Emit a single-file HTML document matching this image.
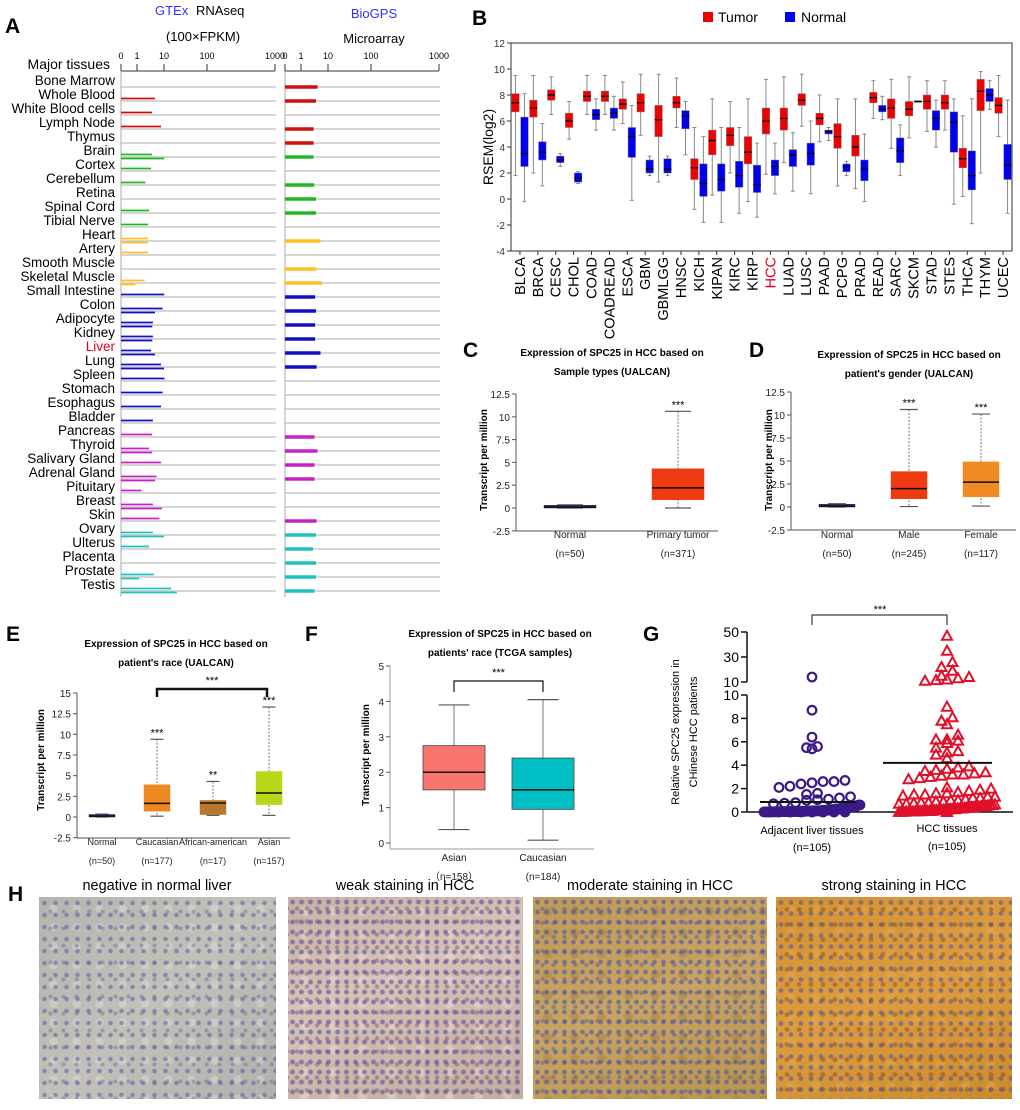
<!DOCTYPE html>
<html><head><meta charset="utf-8">
<style>
body{margin:0;background:#fff;width:1020px;height:1110px;overflow:hidden;position:relative;font-family:"Liberation Sans",sans-serif}
svg{position:absolute;left:0;top:0}
.ihc{position:absolute;top:897px;height:202px}
</style></head>
<body>
<div class="ihc" style="left:39px;width:237px;background:radial-gradient(circle,rgba(80,90,160,.55) 1.6px,transparent 2.8px) 0 0/11px 12px,radial-gradient(circle,rgba(90,90,150,.4) 1.4px,transparent 2.6px) 5px 6px/13px 17px,radial-gradient(circle,rgba(220,220,215,.5) 3px,transparent 5px) 3px 2px/23px 19px,linear-gradient(135deg,#b4b4ae,#c2c0b8 50%,#b0b0ac)"></div>
<div class="ihc" style="left:288px;width:235px;background:radial-gradient(circle,rgba(80,80,150,.6) 1.8px,transparent 3px) 0 0/9px 10px,radial-gradient(circle,rgba(120,70,110,.45) 1.6px,transparent 2.8px) 4px 5px/10px 13px,radial-gradient(circle,rgba(235,220,210,.5) 3px,transparent 6px) 2px 3px/29px 23px,linear-gradient(160deg,#c9b1a6,#d6c2b8 40%,#c4aca0)"></div>
<div class="ihc" style="left:533px;width:234px;background:radial-gradient(circle,rgba(70,80,170,.6) 1.7px,transparent 2.9px) 0 0/9px 10px,radial-gradient(circle,rgba(80,80,160,.45) 1.5px,transparent 2.7px) 4px 5px/11px 14px,radial-gradient(circle,rgba(150,120,60,.4) 3px,transparent 6px) 1px 4px/27px 21px,linear-gradient(160deg,#bf9a58,#c8a462 50%,#b8944e)"></div>
<div class="ihc" style="left:776px;width:236px;background:radial-gradient(circle,rgba(70,80,170,.55) 1.7px,transparent 2.9px) 0 0/10px 11px,radial-gradient(circle,rgba(120,60,20,.4) 1.8px,transparent 3px) 5px 5px/12px 15px,radial-gradient(circle,rgba(230,170,80,.45) 3px,transparent 6px) 2px 2px/25px 22px,linear-gradient(160deg,#d49232,#dc9c3e 50%,#cc8a2c)"></div>
<svg id="s" width="1020" height="1110" xmlns="http://www.w3.org/2000/svg"></svg>
<script>
// ---------- Panel A data ----------
const tissues=["Bone  Marrow","Whole Blood","White Blood cells","Lymph Node","Thymus","Brain","Cortex","Cerebellum","Retina","Spinal Cord","Tibial Nerve","Heart","Artery","Smooth  Muscle","Skeletal Muscle","Small Intestine","Colon","Adipocyte","Kidney","Liver","Lung","Spleen","Stomach","Esophagus","Bladder","Pancreas","Thyroid","Salivary Gland","Adrenal Gland","Pituitary","Breast","Skin","Ovary","Ulterus","Placenta","Prostate","Testis"];
const tissueGroup=[0,0,0,0,0,1,1,1,1,1,1,2,2,2,2,3,3,3,3,3,3,3,3,3,3,4,4,4,4,4,4,4,5,5,5,5,5];
const groupColors=["#cc1010","#20b820","#ffc020","#1010c0","#c820c8","#20c0c0"];
const gtexA=[0,7,6,9,0,6,5.7,3.8,0,5,4.7,4.7,4.7,0,3.5,10.5,9.5,6.3,6.3,5.7,9,11,9.5,9,6.3,6,5,9,7.5,2.5,6.3,8.5,6.3,5,0,6.6,25];
const gtexB=[0,0,0,0,0,10.5,0,0,0,0,0,4.7,0,0,0.9,0,7,6.1,6.1,7,10,0,0,0,0,0,6,0,7,0,9.3,0,10,0,0,1.7,37];
const bioVals=[6.5,6,0,5.2,5.2,5.2,0,5.4,6,6,0,7.5,0,6.2,8,5.7,6,5.7,5.7,7.5,6.2,0,0,0,0,5.5,6.5,5.5,5.5,0,0,6.2,6,5,6,6,5.5];
const axisTicksA=[0,1,10,100,1000];
// ---------- Panel B data ----------
const bCats=["BLCA","BRCA","CESC","CHOL","COAD","COADREAD","ESCA","GBM","GBMLGG","HNSC","KICH","KIPAN","KIRC","KIRP","HCC","LUAD","LUSC","PAAD","PCPG","PRAD","READ","SARC","SKCM","STAD","STES","THCA","THYM","UCEC"];
const tumorStats=[[6.7,7.4,8.1,1.8,9.5],[6.3,7.0,7.6,2,9.5],[7.6,8.0,8.4,6.5,9.4],[5.5,6.0,6.6,4.6,7.5],[7.5,7.9,8.3,6.5,9.5],[7.5,7.9,8.3,6.5,9.5],[6.9,7.3,7.7,5.8,9.0],[6.7,7.4,8.1,4.9,9.6],[4.8,6.1,7.2,1.3,9.6],[7,7.4,7.9,5.5,9.3],[1.5,2.4,3.1,-0.8,5.5],[3.4,4.5,5.3,0.3,7.7],[4.1,4.9,5.5,2,7.5],[2.7,3.6,4.8,-0.2,7.7],[5,6,7,1.9,9.2],[5.3,6.2,7,2.8,9.4],[7.2,7.6,8.1,5.6,9.6],[5.7,6.2,6.6,4.4,8],[3.9,4.8,5.8,1,7.7],[3.3,4,4.9,0.8,7.7],[7.4,7.8,8.2,6.2,9.1],[6.2,7,7.7,3.9,9.2],[6.4,6.9,7.5,4.7,9.4],[6.9,7.5,8,5.2,9.1],[6.9,7.4,8,5.3,9.1],[2.4,3.1,3.9,0.2,6.4],[6.8,8.3,9.2,2,9.8],[6.6,7.2,7.8,4.8,9.5]];
const normalStats=[[2.5,3.5,6.3,-0.2,8.1],[3,3.6,4.4,1,5.8],[2.8,3.0,3.3,2.5,3.5],[1.3,1.6,2.0,1.2,2.1],[6.1,6.5,6.9,5.3,7.7],[6.2,6.6,7.0,5.3,7.9],[3.2,4.8,5.5,-0.1,7.2],[2,2.3,3,1.8,3.3],[2,2.3,3.1,1.8,3.3],[5.4,6.4,6.8,3.4,7.5],[0.2,1.2,2.7,-1.8,4.8],[0.6,1.5,2.7,-1.8,5.5],[0.9,1.8,2.9,-1.1,5.5],[0.5,1.1,2.6,-1.4,4.3],[1.8,2.5,3,0.4,4.3],[2.5,3.4,3.8,0.6,5.1],[2.6,3.5,4.3,0.4,6],[5,5.2,5.3,4.5,5.5],[2.1,2.5,2.7,1.8,2.9],[1.4,2.3,3,-0.2,5],[6.7,6.9,7.2,6.1,7.9],[2.8,3.7,4.7,1.8,5.7],[7.45,7.5,7.55,7.45,7.55],[5.3,6.2,6.8,4,7.6],[3.6,5.9,6.7,-0.4,7.7],[0.7,1.8,3.7,-1.9,7.7],[7.5,8,8.5,6.9,9.1],[1.5,2.6,4.2,-1.1,7.6]];
const bTicks=[-4,-2,0,2,4,6,8,10,12];
// ---------- Panels C-F data ----------
const cCats=["Normal","Primary tumor"];const cN=["(n=50)","(n=371)"];
const cStats=[[0,0.1,0.3,0,0.35],[0.9,2.2,4.3,0,10.6]];
const dCats=["Normal","Male","Female"];const dN=["(n=50)","(n=245)","(n=117)"];
const dStats=[[0,0.1,0.3,0,0.35],[0.9,2,3.85,0.05,10.6],[1.1,2.7,4.9,0.1,10.1]];
const eCats=["Normal","Caucasian","African-american","Asian"];const eN=["(n=50)","(n=177)","(n=17)","(n=157)"];
const eStats=[[0,0.1,0.3,0,0.35],[0.7,1.65,3.9,0.1,9.4],[0.3,1.7,2.0,0.2,4.3],[1.5,2.9,5.5,0.2,13.3]];
const fCats=["Asian","Caucasian"];const fN=["（n=158）","(n=184)"];
const fStats=[[1.5,2.0,2.75,0.38,3.9],[0.95,1.5,2.4,0.08,4.05]];
const ualTicks=[-2.5,0,2.5,5,7.5,10,12.5];
const eTicks=[-2.5,0,2.5,5,7.5,10,12.5,15];
const fTicks=[0,1,2,3,4,5];
// ---------- Panel G data ----------
const adjVals=[14,8.7,6.4,5.4,5.5,5.6,2.7,2.6,2.4,2.1,2.2,2.5,2.6,1.6,1.3,1.1,1.0,1.05,1.2,1.5,0.8,0.7,0.75,0.6,0.6,0.55,0.5,0.5,0.45,0.45,0.4,0.4,0.4,0.35,0.35,0.3,0.3,0.3,0.3,0.25,0.25,0.25,0.25,0.2,0.2,0.2,0.2,0.2,0.15,0.15,0.15,0.15,0.15,0.1,0.1,0.1,0.1,0.1,0.1,0.1,0.08,0.08,0.08,0.08,0.08,0.06,0.06,0.06,0.06,0.06,0.05,0.05,0.05,0.05,0.05,0.04,0.04,0.04,0.04,0.04,0.03,0.03,0.03,0.03,0.03,0.02,0.02,0.02,0.02,0.02,0.02,0.01,0.01,0.01,0.01,0.01,0.01,0.01,0,0,0,0,0,0,0];
const hccVals=[47,35,26,22,19,15,14,13,12,11.5,11,9,8.1,7.8,7.5,6.6,6.2,6.1,6.2,5.9,5.5,5.2,5.1,4.9,4.6,3.9,3.8,3.7,3.6,3.4,3.3,3.2,3.1,3.0,2.9,2.8,3.5,3.2,2.1,2.0,1.9,1.8,1.7,1.6,1.5,1.4,1.3,1.2,1.1,1.0,1.6,1.5,1.3,1.2,1.0,0.9,0.9,0.8,0.8,0.75,0.7,0.7,0.65,0.6,0.6,0.55,0.5,0.5,0.5,0.45,0.45,0.4,0.4,0.4,0.35,0.35,0.3,0.3,0.3,0.25,0.25,0.25,0.2,0.2,0.2,0.2,0.15,0.15,0.15,0.1,0.1,0.1,0.1,0.08,0.08,0.06,0.06,0.05,0.05,0.04,0.03,0.02,0.02,0.01,0];
const adjMean=0.85, hccMean=4.2;
const gCats=["Adjacent liver tissues","HCC tissues"];
const gLowTicks=[0,2,4,6,8,10];const gHighTicks=[10,30,50];

// ---------- helpers ----------
const S=document.getElementById('s');const NS='http://www.w3.org/2000/svg';
function mk(tag,attrs,name,parent){const el=document.createElementNS(NS,tag);for(const k in attrs)el.setAttribute(k,attrs[k]);


(parent||S).appendChild(el);return el;}
function tx(x,y,str,name,o){o=o||{};const el=mk('text',Object.assign({x:x,y:y,'font-size':o.fs||12,'font-family':'Liberation Sans, sans-serif','text-anchor':o.a||'start',fill:o.fill||'#000','font-weight':o.fw||'normal'},o.tr?{transform:o.tr}:{}),name);el.textContent=str;return el;}
function ln(x1,y1,x2,y2,c,w,name,dash){const a={x1:x1,y1:y1,x2:x2,y2:y2,stroke:c,'stroke-width':w};if(dash)a['stroke-dasharray']=dash;return mk('line',a,name);}

// ---------- Panel A ----------
tx(5,33,"A","panel-label-a",{fs:21,fw:'bold'});
tx(155,15,"GTEx","gtex-title",{fs:13,fill:'#3030ff'});tx(196,15,"RNAseq","gtex-title-2",{fs:13});
tx(203,41,"(100×FPKM)","gtex-units",{fs:13,a:'middle'});
tx(374,18,"BioGPS","biogps-title",{fs:13,a:'middle',fill:'#3030ff'});
tx(374,43,"Microarray","biogps-subtitle",{fs:13,a:'middle'});
tx(110,69,"Major tissues","major-tissues-header",{fs:14,a:'end'});
const tickPx=[0,16,43,86,154];
function aScale(v){for(let i=1;i<axisTicksA.length;i++){if(v<=axisTicksA[i]){const t=(v-axisTicksA[i-1])/(axisTicksA[i]-axisTicksA[i-1]);return tickPx[i-1]+t*(tickPx[i]-tickPx[i-1]);}}return tickPx[4];}
[121,285].forEach((x0,k)=>{
 ln(x0,71,x0+154,71,'#333',1,k?'biogps-axis':'gtex-axis');
 ln(x0,71,x0,597,'#aaa',1,k?'biogps-left-line':'gtex-left-line');
 axisTicksA.forEach(t=>{const x=x0+aScale(t);ln(x,64,x,71,'#333',1,'a-tick');tx(x,59,String(t),'a-tick-label',{fs:9,a:'middle'});});
});
tissues.forEach((t,i)=>{const y=87+i*14;
 tx(115,y-2,t,'tissue-label',{fs:13.5,a:'end',fill:t==='Liver'?'#e00020':'#000'});
 ln(121,y,276,y,'#c8c8c8',1.5,'gtex-gridline');ln(285,y,440,y,'#c8c8c8',1.5,'biogps-gridline');
 const c=groupColors[tissueGroup[i]];
 if(gtexA[i]>0)ln(121,y-2.5,121+aScale(gtexA[i]),y-2.5,c,1.8,'gtex-bar');
 if(gtexB[i]>0)ln(121,y+1.5,121+aScale(gtexB[i]),y+1.5,c,1.8,'gtex-bar-2');
 if(bioVals[i]>0)ln(285,y,285+aScale(bioVals[i]),y,c,3.5,'biogps-bar');
});

// ---------- Panel B ----------
tx(472,25,"B","panel-label-b",{fs:21,fw:'bold'});
mk('rect',{x:703,y:12,width:10,height:10,fill:'#f00000'},'legend-tumor-swatch');tx(718,22,"Tumor","legend-tumor",{fs:14});
mk('rect',{x:785,y:12,width:10,height:10,fill:'#0000f0'},'legend-normal-swatch');tx(801,22,"Normal","legend-normal",{fs:14});
const bY=v=>251-(v+4)*13;
mk('rect',{x:511,y:43,width:501,height:208,fill:'none',stroke:'#333','stroke-width':1},'b-plot-frame');
bTicks.forEach(t=>{ln(507,bY(t),511,bY(t),'#333',1,'b-y-tick');tx(505,bY(t)+4,String(t),'b-y-tick-label',{fs:10,a:'end',fill:'#333'});});
tx(493,147,"RSEM(log2)","b-y-axis-title",{fs:14,a:'middle',tr:'rotate(-90 493 147)'});
const bw=(1012-511)/bCats.length;
function bbox(cx,st,col,name){const w=7.5;
 ln(cx,bY(st[4]),cx,bY(st[3]),'#888',1,name+'-whisker');
 ln(cx-2,bY(st[4]),cx+2,bY(st[4]),'#888',1,name+'-cap');ln(cx-2,bY(st[3]),cx+2,bY(st[3]),'#888',1,name+'-cap');
 mk('rect',{x:cx-w/2,y:bY(st[2]),width:w,height:Math.max(1,bY(st[0])-bY(st[2])),fill:col,stroke:'#777','stroke-width':0.5},name);
 ln(cx-w/2,bY(st[1]),cx+w/2,bY(st[1]),'#000',1.3,name+'-median');}
bCats.forEach((c,i)=>{const cx=511+(i+0.5)*bw;
 bbox(cx-4.5,tumorStats[i],'#f00000','b-tumor-box');bbox(cx+4.5,normalStats[i],'#0000f0','b-normal-box');
 ln(cx,251,cx,255,'#333',1,'b-x-tick');
 tx(cx+5,257,c,'b-x-label',{fs:14.5,a:'end',tr:`rotate(-90 ${cx+5} 257)`,fill:c==='HCC'?'#e00020':'#000'});
});

// ---------- UALCAN style panels ----------
function ualPanel(p){
 const yf=v=>p.y0-v*p.k;
 tx(p.lx,p.ly,p.label,'panel-label-'+p.id,{fs:21,fw:'bold'});
 tx(p.tcx,p.t1,p.title1,p.id+'-title-line1',{fs:10,a:'middle',fw:'bold'});
 tx(p.tcx,p.t1+19,p.title2,p.id+'-title-line2',{fs:10,a:'middle',fw:'bold'});
 ln(p.ax,yf(p.ticks[p.ticks.length-1]),p.ax,p.axB,p.axc||'#555',1,p.id+'-y-axis');
 ln(p.ax,p.axB,p.axR,p.axB,p.axc||'#555',1,p.id+'-x-axis');
 p.ticks.forEach(t=>{ln(p.ax-4,yf(t),p.ax,yf(t),'#555',1,p.id+'-y-tick');tx(p.ax-6,yf(t)+4,String(t),p.id+'-y-tick-label',{fs:p.tfs||10,a:'end',fill:'#222'});});
 tx(p.ylx,p.ylc,"Transcript per million",p.id+'-y-axis-title',{fs:10,a:'middle',fw:'bold',tr:`rotate(-90 ${p.ylx} ${p.ylc})`});
 p.cats.forEach((c,i)=>{const cx=p.cx[i],st=p.stats[i],w=p.bw;
  ln(cx,yf(st[4]),cx,yf(st[3]),'#777',1,p.id+'-whisker',p.solid?null:'2,1.5');
  ln(cx-w/4,yf(st[4]),cx+w/4,yf(st[4]),'#555',1.2,p.id+'-whisker-cap');ln(cx-w/4,yf(st[3]),cx+w/4,yf(st[3]),'#555',1.2,p.id+'-whisker-cap');
  mk('rect',{x:cx-w/2,y:yf(st[2]),width:w,height:Math.max(2,yf(st[0])-yf(st[2])),fill:p.colors[i],stroke:p.solid?'#444':p.colors[i],'stroke-width':p.solid?0.8:0.5},p.id+'-box-'+c.toLowerCase().replace(/\W+/g,'-'));
  ln(cx-w/2,yf(st[1]),cx+w/2,yf(st[1]),'#111',1.5,p.id+'-median');
  tx(cx,p.labY,c,p.id+'-x-label',{fs:p.lfs||10,a:'middle',fill:'#222'});
  tx(cx,p.labY+19,p.ns[i],p.id+'-n-label',{fs:p.lfs||10,a:'middle',fill:'#222'});
  if(p.stars&&p.stars[i])tx(cx,yf(st[4])-3,p.stars[i],p.id+'-significance',{fs:11,a:'middle'});
 });
 if(p.br){const[a,b,y,yb,st,w]=p.br;mk('path',{d:`M${a},${yb} V${y} H${b} V${yb}`,fill:'none',stroke:'#111','stroke-width':w},p.id+'-bracket');tx((a+b)/2,y-5,st,p.id+'-bracket-stars',{fs:11,a:'middle'});}
}
ualPanel({id:'c',label:'C',lx:463,ly:357,tcx:612,t1:356,title1:'Expression of SPC25 in HCC based on',title2:'Sample types (UALCAN)',ax:516,axB:531,axR:718,y0:508,k:114/12.5,ticks:ualTicks,ylx:487,ylc:460,cats:cCats,ns:cN,cx:[570,678],bw:52,stats:cStats,colors:['#27306a','#f03a12'],labY:538,stars:[null,'***']});
ualPanel({id:'d',label:'D',lx:749,ly:357,tcx:909,t1:358,title1:'Expression of SPC25 in HCC based on',title2:'patient\'s gender   (UALCAN)',ax:791,axB:530,axR:1016,y0:507,k:115/12.5,ticks:ualTicks,ylx:772,ylc:460,cats:dCats,ns:dN,cx:[837,909,981],bw:36,stats:dStats,colors:['#27306a','#f03a12','#f08a22'],labY:538,stars:[null,'***','***']});
ualPanel({id:'e',label:'E',lx:6,ly:641,tcx:176,t1:647,title1:'Expression of SPC25 in HCC based on',title2:'patient\'s race   (UALCAN)',ax:77,axB:838,axR:290,y0:817,k:124/15,ticks:eTicks,ylx:44,ylc:760,cats:eCats,ns:eN,cx:[102,157,213,269],bw:26,stats:eStats,colors:['#27306a','#ee8820','#b8782c','#b8d818'],labY:845,lfs:9,stars:[null,'***','**','***'],br:[157,267,689,697,'***',2.5]});
ualPanel({id:'f',label:'F',lx:305,ly:641,tcx:500,t1:637,title1:'Expression of SPC25 in HCC based on',title2:'patients\' race  (TCGA samples)',ax:390,axB:849,axR:594,y0:843,k:177/5,ticks:fTicks,axc:'#999',ylx:369,ylc:755,cats:fCats,ns:fN,cx:[454,543],bw:62,stats:fStats,colors:['#f8766d','#00bfc4'],labY:861,solid:true,br:[454,543,681,692,'***',1.2]});

// ---------- Panel G ----------
tx(643,641,"G","panel-label-g",{fs:21,fw:'bold'});
const gLow=v=>812-v*11.7;const gHigh=v=>682-(v-10)*1.25;
const gY=v=>v<=10?gLow(v):gHigh(v);
ln(747,695,747,812,'#111',1.5,'g-y-axis-lower');ln(747,632,747,682,'#111',1.5,'g-y-axis-upper');
ln(747,812,1013,812,'#111',1.5,'g-x-axis');
gLowTicks.forEach(t=>{ln(741,gLow(t),747,gLow(t),'#111',1.5,'g-y-tick');tx(739,gLow(t)+5,String(t),'g-y-tick-label',{fs:14,a:'end'});});
gHighTicks.forEach(t=>{ln(741,gHigh(t),747,gHigh(t),'#111',1.5,'g-y-tick');tx(739,gHigh(t)+5,String(t),'g-y-tick-label',{fs:14,a:'end'});});
tx(679,732,"Relative SPC25 expression in","g-y-axis-title-1",{fs:11,a:'middle',tr:'rotate(-90 679 732)'});
tx(697,732,"CHinese HCC patients","g-y-axis-title-2",{fs:11,a:'middle',tr:'rotate(-90 697 732)'});
mk('path',{d:'M812,625 V615 H947 V625',fill:'none',stroke:'#111','stroke-width':1},'g-bracket');
tx(880,613,"***","g-bracket-stars",{fs:11,a:'middle'});
function swarm(vals,cx,kind){
 const pts=vals.map(v=>({v:v,y:gY(v)})).sort((a,b)=>b.y-a.y);
 const bins={};pts.forEach(p=>{const k=Math.round(p.y/8);(bins[k]=bins[k]||[]).push(p);});
 Object.keys(bins).forEach(k=>{const arr=bins[k];const n=arr.length;const sp=n>1?Math.min(11,96/(n-1)):0;
  arr.forEach((p,j)=>{const x=cx+(j-(n-1)/2)*sp;
   if(kind==='circle')mk('circle',{cx:x,cy:p.y,r:4.3,fill:p.v<0.6?'#3a1a86':'none',stroke:'#3a1a86','stroke-width':2.2},'adjacent-point');
   else mk('path',{d:`M${x},${p.y-5} L${x+5},${p.y+4} L${x-5},${p.y+4} Z`,fill:p.v<0.6?'#e0102a':'none',stroke:'#e0102a','stroke-width':2},'hcc-point');});});
}
swarm(adjVals,812,'circle');swarm(hccVals,947,'tri');
ln(760,gLow(adjMean),856,gLow(adjMean),'#111',2,'adjacent-mean-line');
ln(883,gLow(hccMean),992,gLow(hccMean),'#111',2,'hcc-mean-line');
tx(812,834,gCats[0],'g-x-label-adjacent',{fs:11,a:'middle'});tx(947,832,gCats[1],'g-x-label-hcc',{fs:11,a:'middle'});
tx(812,851,"(n=105)","g-n-adjacent",{fs:11,a:'middle'});tx(947,850,"(n=105)","g-n-hcc",{fs:11,a:'middle'});

// ---------- Panel H ----------
tx(8,901,"H","panel-label-h",{fs:21,fw:'bold'});
tx(157,890,"negative in normal liver","h-title-normal",{fs:14.5,a:'middle'});
tx(405,890,"weak staining in HCC","h-title-weak",{fs:14.5,a:'middle'});
tx(650,890,"moderate staining in HCC","h-title-moderate",{fs:14.5,a:'middle'});
tx(894,890,"strong staining in HCC","h-title-strong",{fs:14.5,a:'middle'});
</script>
</body></html>
